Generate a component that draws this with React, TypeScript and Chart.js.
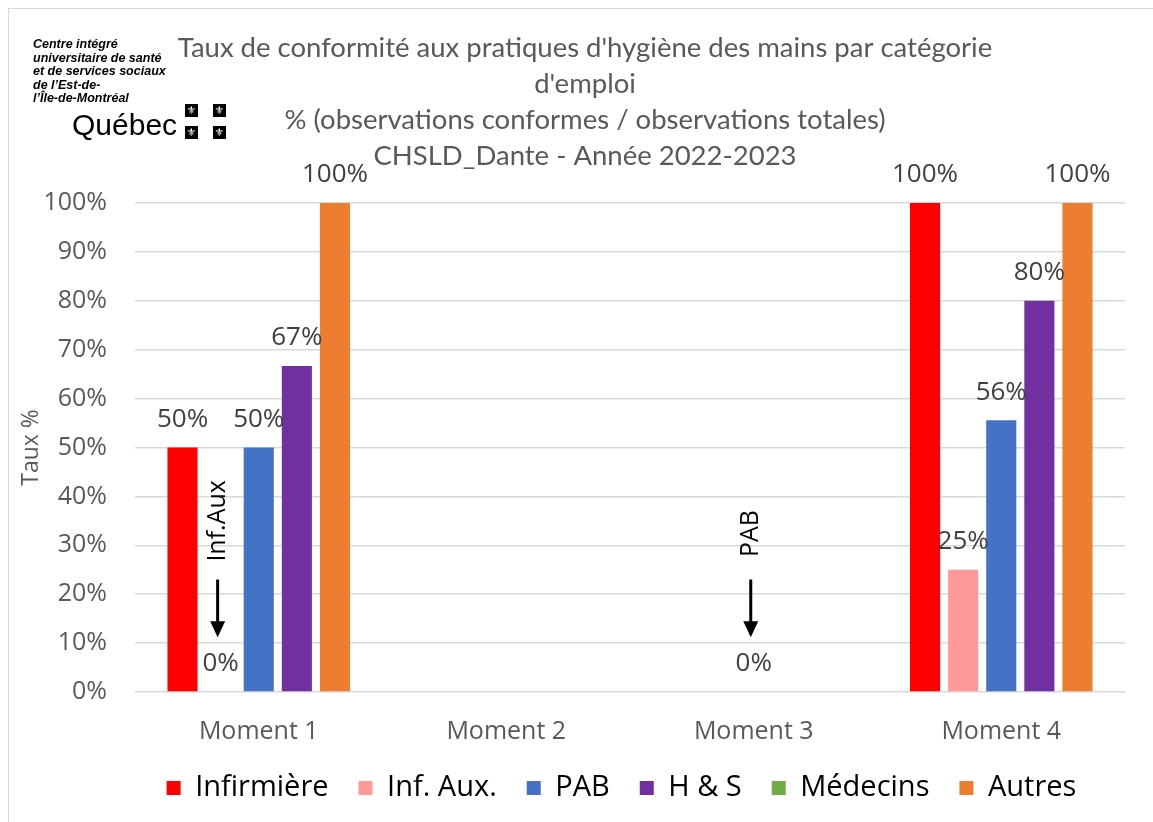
import React, { useEffect, useRef } from 'react';
import { Chart, registerables } from 'chart.js';

Chart.register(...registerables);

// ---- Data ----
const categories = ['Moment 1', 'Moment 2', 'Moment 3', 'Moment 4'];
const seriesNames = ['Infirmière', 'Inf. Aux.', 'PAB', 'H & S', 'Médecins', 'Autres'];
const infirmiere = [50, null, null, 100];
const infAux = [0, null, null, 25];
const pab = [50, null, 0, 55.56];
const hs = [66.67, null, null, 80];
const medecins = [null, null, null, null];
const autres = [100, null, null, 100];
const seriesValues = [infirmiere, infAux, pab, hs, medecins, autres];
const seriesColors = ['#FF0000', '#FF9999', '#4472C4', '#7030A0', '#70AD47', '#ED7D31'];
const yMin = 0;
const yMax = 100;
const yStep = 10;
const titleLines = [
  "Taux de conformité aux pratiques d'hygiène des mains par catégorie",
  "d'emploi",
  '% (observations conformes / observations totales)',
  'CHSLD_Dante - Année 2022-2023',
];
const yAxisTitle = 'Taux %';
// notes pointing at the 0% bars (series index, category index, value positions in %)
const noteSeries = [1, 2];
const noteIndex = [0, 2];
const noteTexts = ['Inf.Aux', 'PAB'];
const noteTextAt = [35, 32.4];
const noteArrowFrom = [23, 23];
const noteArrowTo = [11.2, 11.2];

const logoLines = [
  'Centre intégré',
  'universitaire de santé',
  'et de services sociaux',
  'de l’Est-de-',
  'l’Île-de-Montréal',
];

const legendShift = {
  id: 'legendShift',
  afterLayout(chart: any) {
    const lg = chart.legend;
    if (!lg) return;
    const target = (chart.chartArea.left + chart.chartArea.right) / 2 - 8.5;
    const d = target - (lg.left + lg.right) / 2;
    lg.left += d;
    lg.right += d;
    lg.top -= 8.5;
    lg.bottom -= 8.5;
  },
};

const valueLabels = {
  id: 'valueLabels',
  afterDatasetsDraw(chart: any) {
    const ctx = chart.ctx;
    ctx.save();
    ctx.font = '26px "Open Sans"';
    ctx.fillStyle = '#404040';
    ctx.textAlign = 'center';
    ctx.textBaseline = 'middle';
    chart.data.datasets.forEach((ds: any, di: number) => {
      const meta = chart.getDatasetMeta(di);
      meta.data.forEach((el: any, i: number) => {
        const v = ds.data[i];
        if (v === null || v === undefined) return;
        ctx.fillText(Math.round(v) + '%', el.x, el.y - 28);
      });
    });
    ctx.restore();
  },
};

const notesPlugin = {
  id: 'notes',
  afterDatasetsDraw(chart: any) {
    const ctx = chart.ctx;
    const y = chart.scales.y;
    ctx.save();
    noteTexts.forEach((txt, k) => {
      const meta = chart.getDatasetMeta(noteSeries[k]);
      const el = meta.data[noteIndex[k]];
      if (!el) return;
      const x = el.x - 3;
      ctx.save();
      ctx.translate(x, y.getPixelForValue(noteTextAt[k]));
      ctx.rotate(-Math.PI / 2);
      ctx.font = '25px "Open Sans"';
      ctx.fillStyle = '#000';
      ctx.textAlign = 'center';
      ctx.textBaseline = 'middle';
      ctx.fillText(txt, 0, 0);
      ctx.restore();
      const y1 = y.getPixelForValue(noteArrowFrom[k]);
      const y2 = y.getPixelForValue(noteArrowTo[k]);
      const head = 16;
      ctx.strokeStyle = '#000';
      ctx.lineWidth = 3;
      ctx.beginPath();
      ctx.moveTo(x, y1);
      ctx.lineTo(x, y2 - head + 2);
      ctx.stroke();
      ctx.fillStyle = '#000';
      ctx.beginPath();
      ctx.moveTo(x - 7.5, y2 - head);
      ctx.lineTo(x + 7.5, y2 - head);
      ctx.lineTo(x, y2);
      ctx.closePath();
      ctx.fill();
    });
    ctx.restore();
  },
};

export default function App() {
  const ref = useRef<HTMLCanvasElement | null>(null);

  useEffect(() => {
    if (!ref.current) return;
    const tickColor = '#595959';
    const chart = new Chart(ref.current, {
      type: 'bar',
      data: {
        labels: categories,
        datasets: seriesNames.map((name, i) => ({
          label: name,
          data: seriesValues[i],
          backgroundColor: seriesColors[i],
          borderWidth: 0,
          grouped: i !== 4,
          categoryPercentage: 0.77,
          barPercentage: 0.79,
        })) as any,
      },
      options: {
        animation: false,
        responsive: true,
        maintainAspectRatio: false,
        layout: { padding: { top: 0, left: 0, right: 0, bottom: 1 } },
        plugins: {
          title: {
            display: true,
            text: titleLines,
            color: '#595959',
            font: { family: 'Lato', size: 27.5, weight: 'normal', lineHeight: 36 / 27.5 },
            padding: { top: 21, bottom: 29 },
          },
          legend: {
            position: 'bottom',
            labels: {
              boxWidth: 14,
              boxHeight: 14,
              padding: 30,
              color: '#000',
              font: { family: 'Open Sans', size: 29 },
            },
          },
          tooltip: { enabled: false },
        },
        scales: {
          x: {
            grid: { display: false },
            border: { display: false },
            ticks: { color: tickColor, font: { family: 'Open Sans', size: 25 }, padding: 17 },
            afterFit: (s: any) => {
              s.height = 60;
            },
          },
          y: {
            min: yMin,
            max: yMax,
            ticks: {
              stepSize: yStep,
              callback: (v: any) => v + '%',
              padding: 28,
              color: tickColor,
              font: { family: 'Open Sans', size: 25 },
            },
            grid: { color: '#d9d9d9', lineWidth: 1.5, drawTicks: false },
            border: { display: false },
            title: {
              display: true,
              text: yAxisTitle,
              color: tickColor,
              font: { family: 'Open Sans', size: 23 },
              padding: { top: 9, bottom: 0 },
            },
            afterFit: (s: any) => {
              s.width = 126;
            },
          },
          yRight: {
            position: 'right',
            display: true,
            grid: { display: false },
            ticks: { display: false },
            border: { display: false },
            afterFit: (s: any) => {
              s.width = 36;
            },
          },
        },
      } as any,
      plugins: [legendShift, valueLabels, notesPlugin],
    });
    return () => chart.destroy();
  }, []);

  const sq = (left: number, top: number) => (
    <div
      key={left + '-' + top}
      style={{
        position: 'absolute',
        left,
        top,
        width: 13,
        height: 13,
        background: '#000',
        color: '#fff',
        fontSize: 11,
        lineHeight: '13px',
        textAlign: 'center',
        fontFamily: 'DejaVu Sans',
      }}
    >
      ⚜
    </div>
  );

  return (
    <div
      style={{
        position: 'fixed',
        left: 8,
        top: 8,
        width: 1200,
        height: 860,
        boxSizing: 'border-box',
        borderTop: '1.5px solid #d9d9d9',
        borderLeft: '1.5px solid #d9d9d9',
        overflow: 'hidden',
        background: '#fff',
      }}
    >
      <div style={{ position: 'absolute', left: 0, top: 0, width: 1152, height: 813 }}>
        <canvas ref={ref} />
      </div>
      <div
        style={{
          position: 'absolute',
          left: 24,
          top: 29,
          fontFamily: '"Liberation Sans", Arial, sans-serif',
          fontWeight: 'bold',
          fontStyle: 'italic',
          fontSize: 12.5,
          lineHeight: '13.6px',
          color: '#000',
          whiteSpace: 'nowrap',
        }}
      >
        {logoLines.map((l) => (
          <div key={l}>{l}</div>
        ))}
      </div>
      <div
        style={{
          position: 'absolute',
          left: 63,
          top: 101,
          fontFamily: '"Liberation Sans", Arial, sans-serif',
          fontSize: 30,
          lineHeight: '30px',
          color: '#000',
          whiteSpace: 'nowrap',
        }}
      >
        Québec
      </div>
      {sq(176, 95)}
      {sq(204, 95)}
      {sq(176, 117)}
      {sq(204, 117)}
    </div>
  );
}
